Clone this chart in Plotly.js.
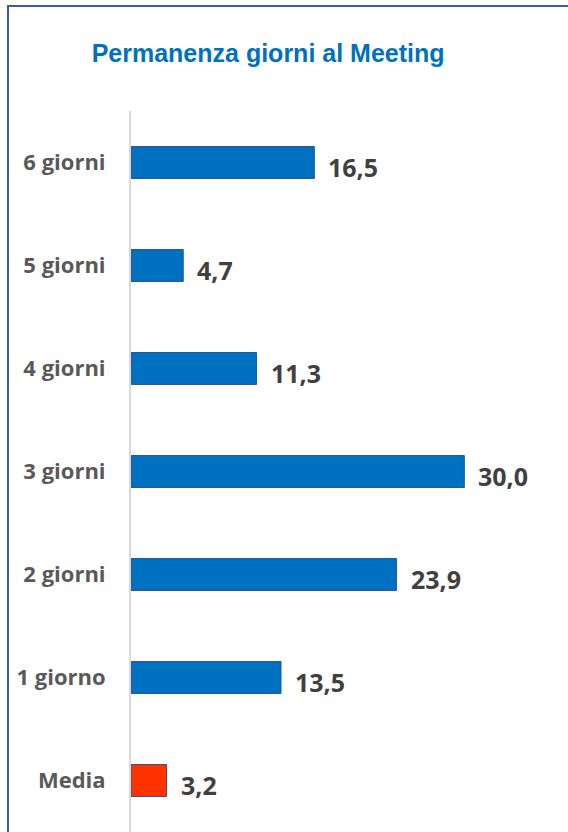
<!DOCTYPE html>
<html>
<head>
<meta charset="utf-8">
<script src="https://cdn.plot.ly/plotly-3.0.1.min.js"></script>
<style>
  html, body { margin: 0; padding: 0; background: #ffffff; }
  #wrap { position: relative; width: 568px; height: 832px; overflow: hidden; }
  #chart { position: absolute; left: 0; top: 0; width: 568px; height: 832px; }
  #frame { position: absolute; left: 7px; top: 5px; width: 600px; height: 900px;
           border-left: 2px solid #3B5CA6; border-top: 2px solid #3B5CA6; pointer-events: none; }
</style>
</head>
<body>
<div id="wrap">
  <div id="chart"></div>
  <div id="frame"></div>
</div>
<script>
const categories = ['Media', '1 giorno', '2 giorni', '3 giorni', '4 giorni', '5 giorni', '6 giorni'];
const values = [3.2, 13.5, 23.9, 30.0, 11.3, 4.7, 16.5];
const barColors = ['#FF3300', '#0070C0', '#0070C0', '#0070C0', '#0070C0', '#0070C0', '#0070C0'];
const chartTitle = 'Permanenza giorni al Meeting';

const fmt = v => v.toFixed(1).replace('.', ',');

const trace = {
  type: 'bar',
  orientation: 'h',
  x: values,
  y: categories,
  width: 0.31,
  marker: { color: barColors, line: { color: '#2F528F', width: 1 } },
  hoverinfo: 'none'
};

const annotations = values.map((v, i) => ({
  x: v, y: categories[i], xref: 'x', yref: 'y',
  text: '<b>' + fmt(v) + '</b>',
  showarrow: false, xanchor: 'left', yanchor: 'middle',
  xshift: 12, yshift: -4,
  font: { family: 'Open Sans, sans-serif', size: 25, color: '#404040' }
}));

const layout = {
  width: 568, height: 832,
  margin: { l: 131, r: 37, t: 111, b: 0 },
  paper_bgcolor: '#ffffff', plot_bgcolor: '#ffffff',
  showlegend: false,
  title: {
    text: '<b>' + chartTitle + '</b>',
    font: { family: 'Liberation Sans, Arial, sans-serif', size: 25, color: '#0070C0' },
    xref: 'container', yref: 'container', x: 0.472, y: 1 - 53 / 832,
    xanchor: 'center', yanchor: 'middle'
  },
  xaxis: {
    range: [0, 36], visible: false, showgrid: false, zeroline: false, fixedrange: true
  },
  yaxis: {
    type: 'category', categoryorder: 'array', categoryarray: categories,
    showline: true, linecolor: '#D9D9D9', linewidth: 2,
    showgrid: false, zeroline: false, ticks: '', ticklabelstandoff: 19,
    tickfont: { family: 'Open Sans, sans-serif', size: 22, color: '#595959', weight: 'bold' },
    fixedrange: true
  },
  annotations: annotations
};

Plotly.newPlot('chart', [trace], layout, { staticPlot: true, displayModeBar: false });
</script>
</body>
</html>
